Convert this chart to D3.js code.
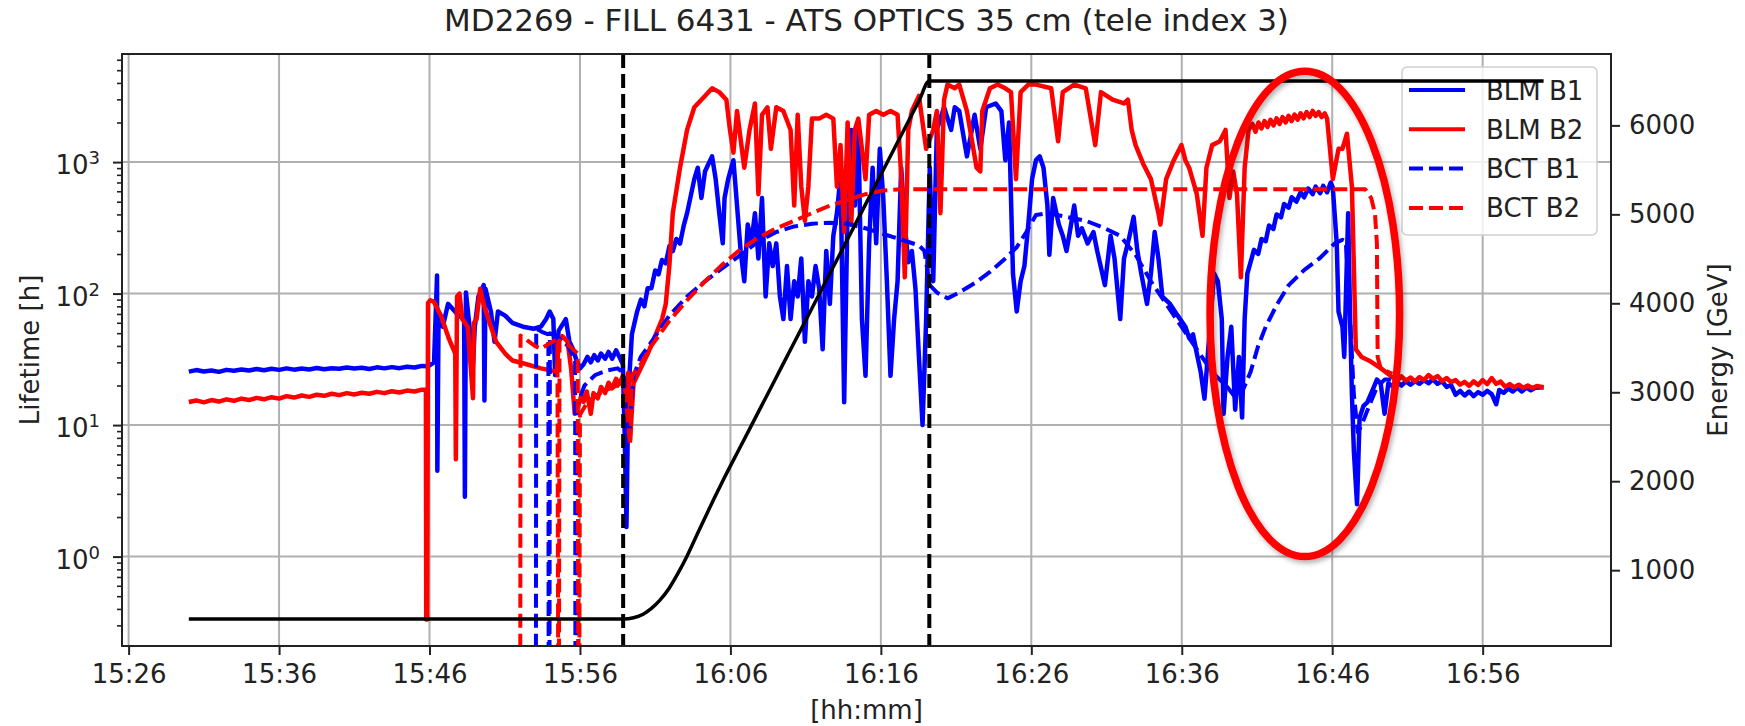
<!DOCTYPE html>
<html>
<head>
<meta charset="utf-8">
<script src="https://cdn.jsdelivr.net/npm/d3@7"></script>
<style>
  body { margin: 0; background: #fff; }
  text { font-family: "DejaVu Sans", sans-serif; }
</style>
</head>
<body>
<div id="chart"></div>
<script>
// time values are minutes after 15:00, lifetimes in hours, energy in GeV
var xTickLabels = ["15:26","15:36","15:46","15:56","16:06","16:16","16:26","16:36","16:46","16:56"];
var xLimits = [25.56, 124.53];
var lifetimeLimits = [0.209, 6637];
var energyLimits = [147.5, 6802.5];
var lifetimeMajor = [1, 10, 100, 1000];
var energyTicks = [1000, 2000, 3000, 4000, 5000, 6000];
var rampMarks = [58.87, 79.22];

var blmB1 = [
  [30.0,25.5],[30.5,26.2],[31,25.6],[31.5,26.0],[32,25.4],[32.5,26.3],[33,25.9],[33.5,26.5],[34,26.0],[34.5,26.7],
  [35,26.1],[35.5,26.8],[36,26.3],[36.5,27.0],[37,26.4],[37.5,26.9],[38,26.5],[38.5,27.2],[39,26.6],[39.5,27.1],
  [40,26.8],[40.5,27.4],[41,26.9],[41.5,27.3],[42,26.7],[42.5,27.5],[43,27.0],[43.5,27.6],[44,27.1],[44.5,27.8],
  [45,27.4],[45.5,28.2],[45.9,28],[46.3,30],[46.5,137],[46.52,4.5],[46.6,64],[46.88,56],[47.23,83.5],[47.47,78],
  [47.94,68],[48.3,64],[48.35,2.85],[48.42,102],[48.66,56],[48.89,29],[49.01,56],[49.25,95],[49.6,116],[49.65,15.4],
  [49.72,109],[50.08,73],[50.32,43],[50.55,73],[51.03,68],[51.5,60],[52.21,56],[52.92,54],[53.4,56],[53.75,64],
  [53.99,73],[54.23,64],[54.35,24],[54.58,52],[55.06,64],[55.3,43],[55.53,38],[55.77,31],[56.01,27],[56.24,29],
  [56.5,33],[56.72,30],[56.95,34],[57.19,31],[57.4,35],[57.67,32],[57.9,36],[58.14,32],[58.4,37],[58.62,33],
  [58.85,29],[58.97,8.8],[59.09,1.68],[59.21,17],[59.45,49],[59.8,73],[60.05,90],[60.28,80],[60.5,110],[60.75,110],
  [61.0,150],[61.22,140],[61.45,180],[61.7,170],[61.95,230],[62.17,210],[62.4,260],[62.65,240],[62.9,330],[63.12,409],
  [63.6,742],[63.83,906],[64.07,533],[64.31,848],[64.54,968],[64.78,1105],[65.02,742],[65.26,409],[65.49,241],[65.61,533],
  [65.85,742],[66.2,1034],[66.44,467],[66.68,211],[66.92,124],[67.15,335],[67.39,241],[67.63,409],[67.86,185],[68.1,533],
  [68.34,95],[68.58,241],[68.81,162],[69.05,241],[69.29,95],[69.52,64],[69.76,162],[70.0,64],[70.24,124],[70.47,95],
  [70.71,185],[70.95,43],[71.18,124],[71.42,95],[71.66,162],[71.9,109],[72.13,37.7],[72.37,211],[72.61,83.5],[72.84,275],
  [73.08,409],[73.32,793],[73.56,14.9],[73.79,467],[74.03,1756],[74.27,467],[74.5,1876],[74.74,64],[74.98,23.7],[75.22,241],
  [75.45,906],[75.69,241],[75.93,1261],[76.16,533],[76.4,124],[76.64,23.7],[76.88,64],[77.11,124],[77.35,906],[77.59,335],
  [77.82,173],[78.06,211],[78.3,109],[78.53,33],[78.77,10.0],[79.01,64],[79.25,906],[79.48,124],[79.72,1756],[80.2,2612],
  [80.67,1756],[80.91,2612],[81.21,2444],[81.72,1105],[82.23,2288],[82.61,1261],[83.0,2612],[83.63,2791],[84.01,2444],[84.27,1034],
  [84.52,2004],[84.78,142],[85.03,73],[85.29,124],[85.54,162],[85.8,335],[86.05,742],[86.31,1034],[86.56,1105],[86.81,906],
  [87.07,467],[87.2,197],[87.45,533],[87.83,335],[88.09,275],[88.34,211],[88.6,314],[88.85,467],[89.11,275],[89.36,314],
  [89.74,241],[90.13,294],[90.38,211],[90.89,116],[91.27,275],[91.53,185],[91.91,64],[92.16,185],[92.42,241],[92.8,383],
  [93.05,211],[93.31,142],[93.69,83.5],[93.95,142],[94.2,294],[94.45,185],[94.71,95],[95.22,83.5],[95.73,68],[96.24,56],
  [96.49,46],[96.75,49],[97.0,35],[97.26,25.3],[97.51,15.9],[97.76,37.7],[98.15,142],[98.4,124],[98.66,64],[98.78,12.2],
  [99.04,33],[99.29,56],[99.55,13.1],[99.8,33],[100.01,11.4],[100.18,64],[100.36,142],[100.57,173],[100.8,215],[101.08,200],
  [101.3,260],[101.58,250],[101.8,330],[102.09,310],[102.3,400],[102.6,380],[102.8,480],[103.11,450],[103.3,540],[103.62,500],
  [103.9,590],[104.13,540],[104.4,630],[104.7,570],[104.9,650],[105.2,580],[105.4,660],[105.66,590],[105.9,700],[106.04,640],
  [106.3,241],[106.42,73],[106.68,56],[106.8,33],[107.06,409],[107.19,64],[107.31,17],[107.44,6.3],[107.65,2.5],[107.82,11.4],
  [108.08,14],[108.33,14.9],[108.71,18.8],[108.97,22.2],[109.22,20.8],[109.48,12.2],[109.73,20.8],[110.0,19.8],[110.3,21.2],[110.6,20.0],
  [110.9,21.5],[111.2,20.3],[111.5,21.6],[111.8,20.6],[112.1,22.0],[112.4,20.8],[112.7,22.3],[113.0,20.6],[113.3,21.5],[113.6,19.5],
  [113.9,20.2],[114.2,17.0],[114.5,18.2],[114.8,16.8],[115.1,18.0],[115.4,16.6],[115.7,17.8],[116.0,17.0],[116.3,18.2],[116.6,17.2],
  [116.9,14.4],[117.1,18.5],[117.4,17.6],[117.7,19.0],[118.0,18.0],[118.3,19.2],[118.6,18.0],[118.9,19.3],[119.2,18.4],[119.5,19.2],
  [120.05,19.4]
];

var blmB2 = [
  [30.0,15.0],[30.5,15.4],[31,14.9],[31.5,15.5],[32,15.1],[32.5,15.7],[33,15.3],[33.5,15.9],[34,15.5],[34.5,16.1],
  [35,15.7],[35.5,16.3],[36,15.9],[36.5,16.6],[37,16.2],[37.5,16.8],[38,16.4],[38.5,17.0],[39,16.7],[39.5,17.3],
  [40,16.9],[40.5,17.5],[41,17.1],[41.5,17.6],[42,17.3],[42.5,17.9],[43,17.5],[43.5,18.1],[44,17.7],[44.5,18.3],
  [45,18.0],[45.5,18.6],[45.76,18.6],[45.78,0.333],[45.84,0.333],[45.9,85],[46.05,89],[46.28,87],[46.76,68],[47.3,45],
  [47.71,35],[47.75,5.5],[47.83,95],[47.99,100],[48.18,64],[48.54,56],[48.89,16],[48.95,60],[49.13,64],[49.37,109],
  [49.6,83],[50.08,56],[50.43,43],[51.03,35],[51.5,31],[52.45,29],[53.4,27],[54.47,25.5],[54.58,43],[54.82,47.5],
  [55.18,43],[55.41,27],[55.65,12.2],[55.89,14],[56.1,17],[56.24,15],[56.45,18],[56.72,12.2],[56.9,17.5],[57.19,16],
  [57.4,19.5],[57.67,17.5],[57.9,21],[58.14,19],[58.4,22.5],[58.62,20.5],[58.85,23.7],[59.09,17],[59.21,25],[59.33,7.7],
  [59.56,20.8],[60.51,35],[61.46,64],[61.7,83],[61.94,162],[62.17,409],[62.65,906],[63.12,1756],[63.6,2612],[64.31,3185],
  [64.78,3640],[65.26,3405],[65.73,2982],[65.97,1756],[66.2,1180],[66.44,2444],[66.92,906],[67.27,1756],[67.63,2791],[67.86,570],
  [68.1,2288],[68.46,2612],[68.69,1261],[69.05,2612],[69.52,2444],[70.0,1756],[70.24,467],[70.47,2288],[70.71,650],[70.95,358],
  [71.18,650],[71.42,2141],[71.9,2141],[72.37,2288],[72.84,2141],[73.08,650],[73.32,1346],[73.56,294],[73.79,2004],[74.03,335],
  [74.27,1756],[74.5,2141],[74.98,742],[75.22,2288],[75.69,2444],[76.16,2288],[76.64,2444],[77.11,2288],[77.35,793],[77.59,133],
  [77.82,1756],[78.06,2444],[78.53,3185],[79.01,1261],[79.48,1756],[79.72,2444],[79.96,409],[80.2,2982],[80.43,3886],[80.91,3640],
  [81.21,3886],[81.72,2444],[82.36,906],[82.61,848],[82.74,2444],[83.25,3640],[83.76,3886],[84.27,3640],[84.65,3405],[84.98,742],
  [85.29,3405],[85.8,3886],[86.31,3886],[87.32,3640],[87.78,1440],[88.09,3405],[88.85,3886],[89.62,3640],[90.25,1346],[90.63,3405],
  [91.4,2982],[92.16,2791],[92.42,2982],[92.67,1756],[92.93,1346],[93.44,968],[93.95,742],[94.45,409],[94.58,335],[94.96,742],
  [95.47,1034],[95.98,1346],[96.24,1034],[96.49,906],[97.0,570],[97.38,275],[97.64,906],[98.02,1346],[98.53,1440],[98.91,1756],
  [99.17,533],[99.42,848],[99.67,570],[99.93,133],[100.18,906],[100.44,1756],[100.7,1950],[100.9,1700],[101.1,2000],[101.3,1800],
  [101.5,2050],[101.7,1850],[101.9,2100],[102.1,1900],[102.3,2150],[102.5,1950],[102.7,2200],[102.9,2000],[103.1,2250],[103.3,2050],
  [103.5,2300],[103.7,2100],[103.9,2350],[104.1,2150],[104.3,2400],[104.5,2200],[104.7,2450],[104.9,2250],[105.1,2400],[105.3,2200],
  [105.5,2350],[105.66,2141],[106.04,742],[106.42,1261],[106.68,1261],[106.98,1643],[107.31,650],[107.57,37.7],[107.95,33],[108.46,30.9],
  [109.22,27.1],[109.99,23.2],[110.3,21.5],[110.6,23.5],[110.9,21.8],[111.2,23.0],[111.5,21.5],[111.8,23.2],[112.1,22.0],[112.4,24.0],
  [112.7,22.5],[113.0,23.6],[113.3,21.6],[113.6,22.8],[113.9,21.2],[114.2,22.0],[114.5,20.3],[114.8,21.3],[115.1,19.9],[115.4,21.5],
  [115.7,20.2],[116.0,22.0],[116.3,20.5],[116.6,22.8],[116.9,20.6],[117.2,21.4],[117.5,19.6],[117.8,20.5],[118.1,19.4],[118.4,20.3],
  [118.7,19.2],[119.0,20.0],[119.3,19.1],[119.6,19.8],[120.05,19.4]
];

var bctB1 = [
  [53.07,0.05],[53.09,54],[53.5,51],[53.9,49],[53.92,0.05],[53.97,0.05],[54.0,50],[54.6,46],[55.2,40],[55.68,31],
  [55.7,0.05],[55.76,0.05],[55.8,14],[56.3,20],[57,24],[57.8,26],[58.5,27],[58.9,25],[59.1,11],[59.25,8],
  [59.56,23.7],[60.04,33],[60.75,43],[61.94,68],[63.12,95],[64.31,124],[65.49,157],[66.68,197],[67.86,249],[69.05,294],
  [70.24,324],[71.42,340],[72.61,346],[73.79,340],[74.98,314],[76.16,284],[77.35,257],[78.53,233],[78.89,211],[79.25,116],
  [79.72,102],[80.43,92],[81.21,102],[82.23,120],[83.25,146],[84.27,185],[85.03,225],[85.67,294],[86.31,396],[87.07,409],
  [88.34,383],[89.62,358],[90.89,314],[91.91,275],[92.93,197],[93.95,124],[94.96,83.5],[95.98,56],[97.0,37.7],[98.02,25.3],
  [99.04,19.4],[99.6,16],[99.93,17],[100.57,25.3],[101.08,40],[101.58,56],[102.35,83.5],[103.11,116],[104.13,151],[105.15,185],
  [106.17,241],[106.68,257],[106.9,250],[107.19,64],[107.44,17],[107.7,8.8],[107.95,10],[108.46,14],[108.97,19.4],[109.48,22.2],
  [109.99,22.2]
];

var bctB2 = [
  [52.03,0.05],[52.05,48],[52.5,44],[53.0,40],[53.4,38],[54.0,42],[54.5,45],[54.56,0.05],[54.6,0.05],[54.64,44],
  [55.3,40],[55.85,35],[55.89,0.05],[55.95,0.05],[56.0,12],[56.5,15],[57.5,18],[58.5,20],[59.0,19],[59.33,7],
  [59.45,23.7],[60.04,29],[60.75,40],[61.94,62],[63.12,89],[64.31,124],[65.49,167],[66.68,218],[67.86,266],[69.05,314],
  [70.24,358],[71.42,409],[72.61,467],[73.79,516],[74.98,570],[76.16,609],[77.35,621],[108.2,621],[108.59,533],[108.84,409],
  [108.97,241],[109.02,33],[109.22,27],[109.99,24.5]
];

var energy = [
  [30.0,450],[58.87,450],[59.56,465],[60.2,505],[60.75,570],[61.3,660],[61.94,800],[62.5,960],[63.12,1160],[63.7,1370],
  [64.31,1590],[64.9,1800],[65.49,2003],[66.68,2393],[67.86,2779],[69.05,3169],[70.24,3559],[71.42,3945],[72.61,4335],[73.79,4722],
  [74.98,5112],[76.16,5499],[77.35,5889],[78.53,6275],[79.22,6500],[120.05,6500]
];

var seriesNames = ["BLM B1", "BLM B2", "BCT B1", "BCT B2"];
var seriesColors = ["#0000ff", "#ff0000", "#0000ff", "#ff0000"];
var seriesDash = [null, null, "14,6", "14,6"];

// annotation ellipse: centre time, half width in minutes, top and bottom lifetime
var ellipseNote = {t: 104.18, halfMinutes: 6.3, top: 4900, bottom: 1.0};

// set the dimensions of the figure
var W = 1745, H = 726;
var plot = {left: 122, right: 1611, top: 54, bottom: 646};
var FONT = 26;

var t0 = new Date(2017, 10, 3, 15, 0, 0);
function toTime(m) { return new Date(t0.getTime() + m * 60000); }
var parseHM = d3.timeParse("%Y-%m-%d %H:%M");
var xTickDates = xTickLabels.map(function(s) { return parseHM("2017-11-03 " + s); });

var x = d3.scaleTime()
    .domain(xLimits.map(toTime))
    .range([plot.left, plot.right]);
var y = d3.scaleLog()
    .domain(lifetimeLimits)
    .range([plot.bottom, plot.top]);
var yE = d3.scaleLinear()
    .domain(energyLimits)
    .range([plot.bottom, plot.top]);

var svg = d3.select("#chart")
  .append("svg")
    .attr("width", W)
    .attr("height", H)
    .style("display", "block");

svg.append("rect").attr("width", W).attr("height", H).attr("fill", "#fff");

var defs = svg.append("defs");
defs.append("clipPath").attr("id", "plotclip")
  .append("rect")
    .attr("x", plot.left).attr("y", plot.top)
    .attr("width", plot.right - plot.left)
    .attr("height", plot.bottom - plot.top);
var shadow = defs.append("filter").attr("id", "shadow")
    .attr("x", "-20%").attr("y", "-20%").attr("width", "140%").attr("height", "140%");
shadow.append("feDropShadow")
    .attr("dx", 2).attr("dy", 3).attr("stdDeviation", 2.5)
    .attr("flood-color", "#000").attr("flood-opacity", 0.3);

// grid
var grid = svg.append("g");
grid.selectAll("line.gx")
  .data(xTickDates)
  .enter().append("line")
    .attr("x1", function(d) { return x(d); })
    .attr("x2", function(d) { return x(d); })
    .attr("y1", plot.top).attr("y2", plot.bottom)
    .attr("stroke", "#b0b0b0").attr("stroke-width", 2);
grid.selectAll("line.gy")
  .data(lifetimeMajor)
  .enter().append("line")
    .attr("x1", plot.left).attr("x2", plot.right)
    .attr("y1", function(d) { return y(d); })
    .attr("y2", function(d) { return y(d); })
    .attr("stroke", "#b0b0b0").attr("stroke-width", 2);

// lifetime curves
var line = d3.line()
    .x(function(d) { return x(toTime(d[0])); })
    .y(function(d) { return y(d[1]); });

var lines = svg.append("g").attr("clip-path", "url(#plotclip)");
[blmB1, blmB2, bctB1, bctB2].forEach(function(s, i) {
  lines.append("path")
    .datum(s)
    .attr("d", line)
    .attr("fill", "none")
    .attr("stroke", seriesColors[i])
    .attr("stroke-width", seriesDash[i] ? 4 : 4.5)
    .attr("stroke-linejoin", "round")
    .attr("stroke-dasharray", seriesDash[i]);
});

// legend (belongs to the left axis, so the energy line goes over it)
var legend = svg.append("g");
legend.append("rect")
    .attr("x", 1402).attr("y", 67)
    .attr("width", 195).attr("height", 168)
    .attr("rx", 5)
    .attr("fill", "#fff").attr("fill-opacity", 0.8)
    .attr("stroke", "#d0d0d0").attr("stroke-width", 1.5);
seriesNames.forEach(function(name, i) {
  var ly = 90 + i * 39.3;
  legend.append("line")
    .attr("x1", 1409).attr("x2", 1465)
    .attr("y1", ly).attr("y2", ly)
    .attr("stroke", seriesColors[i]).attr("stroke-width", 4)
    .attr("stroke-dasharray", seriesDash[i]);
  legend.append("text")
    .attr("x", 1486).attr("y", ly + 9.5)
    .attr("font-size", FONT).attr("fill", "#222")
    .text(name);
});

// ramp markers and energy
var over = svg.append("g").attr("clip-path", "url(#plotclip)");
over.selectAll("line.ramp")
  .data(rampMarks)
  .enter().append("line")
    .attr("x1", function(d) { return x(toTime(d)); })
    .attr("x2", function(d) { return x(toTime(d)); })
    .attr("y1", plot.top).attr("y2", plot.bottom)
    .attr("stroke", "#000").attr("stroke-width", 4)
    .attr("stroke-dasharray", "14,6");

var eLine = d3.line()
    .x(function(d) { return x(toTime(d[0])); })
    .y(function(d) { return yE(d[1]); })
    .curve(d3.curveMonotoneX);
over.append("path")
    .datum(energy)
    .attr("d", eLine)
    .attr("fill", "none")
    .attr("stroke", "#000")
    .attr("stroke-width", 3.5);

// axes
function styleAxis(g) {
  g.selectAll("text").attr("font-family", "DejaVu Sans").attr("font-size", FONT).attr("fill", "#222");
  g.selectAll("line").attr("stroke", "#222").attr("stroke-width", 2);
  g.select(".domain").remove();
}

svg.append("g")
    .attr("transform", "translate(0," + plot.bottom + ")")
    .call(d3.axisBottom(x).tickValues(xTickDates).tickFormat(d3.timeFormat("%H:%M"))
      .tickSize(9).tickPadding(10).tickSizeOuter(0))
    .call(styleAxis);

svg.append("g")
    .attr("transform", "translate(" + plot.left + ",0)")
    .call(d3.axisLeft(y).tickValues(lifetimeMajor).tickFormat(function() { return ""; })
      .tickSize(9).tickSizeOuter(0))
    .call(styleAxis);

var minor = y.ticks().filter(function(v) {
  return Math.abs(Math.log10(v) - Math.round(Math.log10(v))) > 1e-6;
});
svg.append("g")
    .attr("transform", "translate(" + plot.left + ",0)")
    .call(d3.axisLeft(y).tickValues(minor).tickFormat(function() { return ""; })
      .tickSize(5).tickSizeOuter(0))
    .call(styleAxis)
    .selectAll("line").attr("stroke-width", 1.6);

// 10^n labels
var ylab = svg.append("g");
lifetimeMajor.forEach(function(v) {
  var t = ylab.append("text")
    .attr("x", 100).attr("y", y(v) + 12)
    .attr("text-anchor", "end")
    .attr("font-size", FONT).attr("fill", "#222");
  t.append("tspan").text("10");
  t.append("tspan").attr("dy", -10).attr("font-size", 18).text(Math.round(Math.log10(v)));
});

svg.append("g")
    .attr("transform", "translate(" + plot.right + ",0)")
    .call(d3.axisRight(yE).tickValues(energyTicks).tickFormat(d3.format("d"))
      .tickSize(9).tickPadding(9).tickSizeOuter(0))
    .call(styleAxis);

// spines
svg.append("rect")
    .attr("x", plot.left).attr("y", plot.top)
    .attr("width", plot.right - plot.left)
    .attr("height", plot.bottom - plot.top)
    .attr("fill", "none").attr("stroke", "#222").attr("stroke-width", 2);

// titles
svg.append("text")
    .attr("x", (plot.left + plot.right) / 2).attr("y", 31)
    .attr("text-anchor", "middle")
    .attr("font-size", 31).attr("fill", "#222")
    .text("MD2269 - FILL 6431 - ATS OPTICS 35 cm (tele index 3)");
svg.append("text")
    .attr("x", (plot.left + plot.right) / 2).attr("y", 719)
    .attr("text-anchor", "middle")
    .attr("font-size", FONT).attr("fill", "#222")
    .text("[hh:mm]");
svg.append("text")
    .attr("transform", "translate(39," + (plot.top + plot.bottom) / 2 + ") rotate(-90)")
    .attr("text-anchor", "middle")
    .attr("font-size", FONT).attr("fill", "#222")
    .text("Lifetime [h]");
svg.append("text")
    .attr("transform", "translate(1727," + (plot.top + plot.bottom) / 2 + ") rotate(-90)")
    .attr("text-anchor", "middle")
    .attr("font-size", FONT).attr("fill", "#222")
    .text("Energy [GeV]");

// red ellipse annotation
var cx = x(toTime(ellipseNote.t));
var rx = x(toTime(ellipseNote.t + ellipseNote.halfMinutes)) - cx;
var yTop = y(ellipseNote.top), yBot = y(ellipseNote.bottom);
svg.append("ellipse")
    .attr("cx", cx).attr("cy", (yTop + yBot) / 2)
    .attr("rx", rx).attr("ry", (yBot - yTop) / 2)
    .attr("fill", "none")
    .attr("stroke", "#ff0000").attr("stroke-width", 7.5)
    .attr("filter", "url(#shadow)");
</script>
</body>
</html>
